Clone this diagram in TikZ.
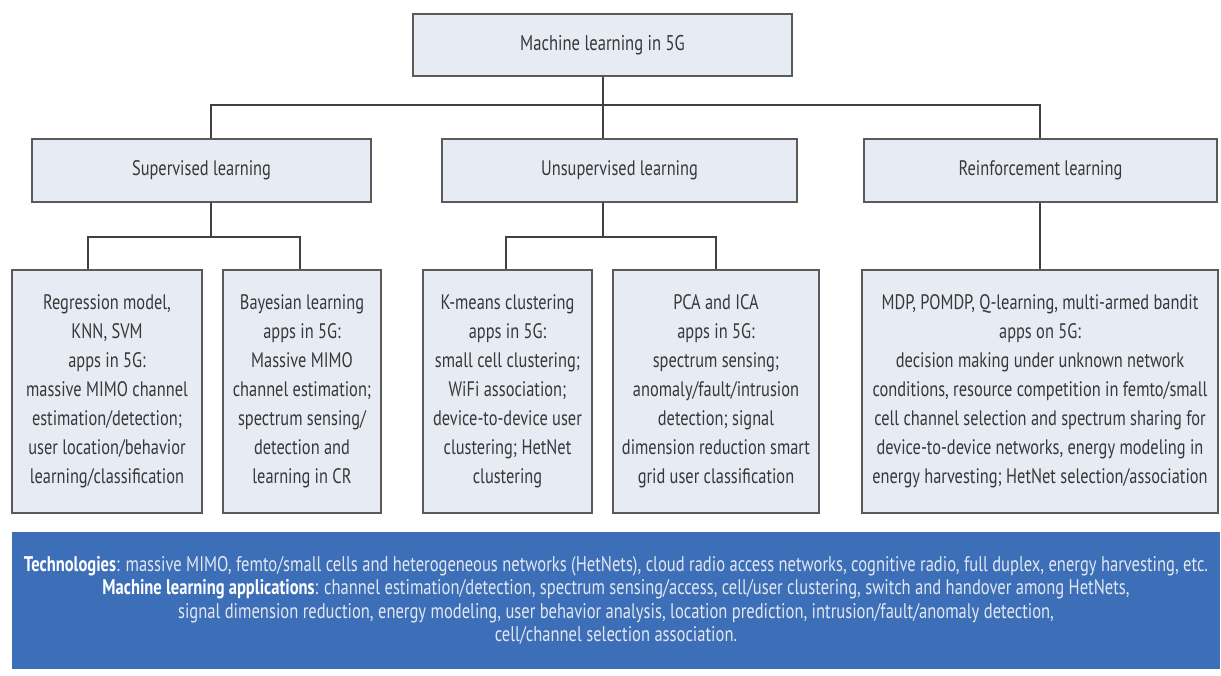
\documentclass[tikz,border=0pt]{standalone}
\usepackage{fontspec}
\setmainfont{PT Sans}[FakeStretch=0.78]
\definecolor{boxfill}{HTML}{E7ECF4}
\definecolor{boxline}{HTML}{5A5A5A}
\definecolor{boxtext}{HTML}{383838}
\definecolor{linkcol}{HTML}{404040}
\definecolor{bandfill}{HTML}{3C6FB8}
\definecolor{bandtext}{HTML}{E2E7F0}
\begin{document}
\begin{tikzpicture}[x=0.5pt,y=-0.5pt,
  size/.style 2 args={minimum width=#1*0.5pt, minimum height=#2*0.5pt},
  box/.style={draw=boxline, fill=boxfill, line width=1.1pt, text=boxtext,
    inner sep=0pt, align=center, font=\fontsize{10.5}{14.5}\selectfont},
  band/.style={fill=bandfill, text=bandtext, inner sep=0pt, align=center,
    font=\fontsize{10.6}{11.75}\selectfont},
  link/.style={draw=linkcol, line width=1.3pt}]
\useasboundingbox (0,0) rectangle (1221,675);
\fill[white] (0,0) rectangle (1221,675);

% root and the three learning families
\node[box, size={379}{62}, font=\fontsize{10.65}{14.5}\selectfont] (root) at (602.5,45) {Machine learning in 5G};
\node[box, size={339}{63}] (sup)  at (201.5,170.5) {Supervised learning};
\node[box, size={355}{63}] (uns)  at (619.5,170.5) {Unsupervised learning};
\node[box, size={353}{63}] (rein) at (1040.5,170.5) {Reinforcement learning};

% methods and their 5G applications
\node[box, size={190}{243}] (reg) at (107,391.5)
  {Regression model,\\KNN, SVM\\apps in 5G:\\massive MIMO channel\\estimation/detection;\\user location/behavior\\learning/classification};
\node[box, size={158}{243}] (bay) at (302,391.5)
  {Bayesian learning\\apps in 5G:\\Massive MIMO\\channel estimation;\\spectrum sensing/\\detection and\\learning in CR};
\node[box, size={169}{243}] (km) at (507.5,391.5)
  {K-means clustering\\apps in 5G:\\small cell clustering;\\WiFi association;\\device-to-device user\\clustering; HetNet\\clustering};
\node[box, size={206}{243}] (pca) at (716,391.5)
  {PCA and ICA\\apps in 5G:\\spectrum sensing;\\anomaly/fault/intrusion\\detection; signal\\dimension reduction smart\\grid user classification};
\node[box, size={356}{243}] (mdp) at (1040,391.5)
  {MDP, POMDP, Q-learning, multi-armed bandit\\apps on 5G:\\decision making under unknown network\\conditions, resource competition in femto/small\\cell channel selection and spectrum sharing for\\device-to-device networks, energy modeling in\\energy harvesting; HetNet selection/association};

% summary band
\node[band, size={1208}{137}] (tech) at (616,600.5)
  {\textbf{\color{white}Technologies}: massive MIMO, femto/small cells and heterogeneous networks (HetNets), cloud radio access networks, cognitive radio, full duplex, energy harvesting, etc.\\
   \textbf{\color{white}Machine learning applications}: channel estimation/detection, spectrum sensing/access, cell/user clustering, switch and handover among HetNets,\\
   signal dimension reduction, energy modeling, user behavior analysis, location prediction, intrusion/fault/anomaly detection,\\
   cell/channel selection association.};

% junction points of the tree
\coordinate (jS) at (211,105);
\coordinate (jM) at (603,105);
\coordinate (jR) at (1040,105);
\coordinate (kS) at (211,237);
\coordinate (kM) at (603,237);
\coordinate (kS1) at (88,237);
\coordinate (kS2) at (300,237);
\coordinate (kM1) at (506,237);
\coordinate (kM2) at (716,237);

% first level
\draw[link] (root.south -| jM) -- (uns.north -| jM);
\draw[link] (sup.north -| jS) -- (jS) -- (jR) -- (rein.north -| jR);
% second level
\draw[link] (sup.south -| kS) -- (kS);
\draw[link] (reg.north -| kS1) -- (kS1) -- (kS2) -- (bay.north -| kS2);
\draw[link] (uns.south -| kM) -- (kM);
\draw[link] (km.north -| kM1) -- (kM1) -- (kM2) -- (pca.north -| kM2);
\draw[link] (rein.south -| jR) -- (mdp.north -| jR);
\end{tikzpicture}
\end{document}
